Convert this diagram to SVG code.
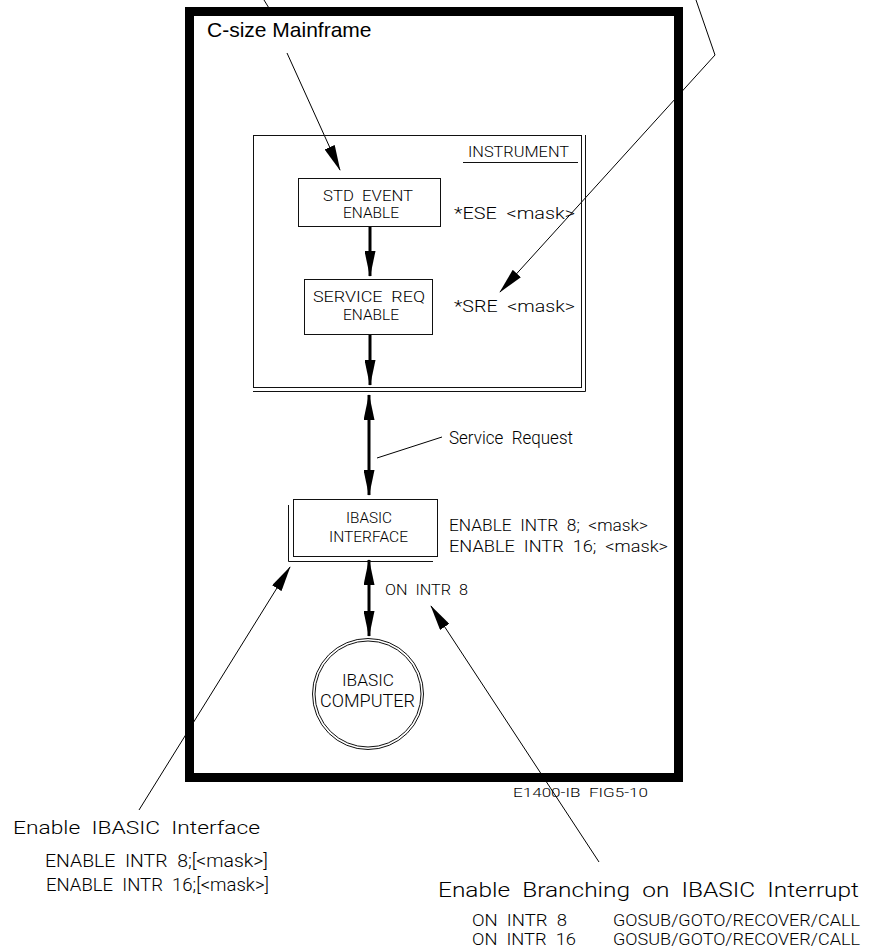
<svg xmlns="http://www.w3.org/2000/svg" width="877" height="951" viewBox="0 0 877 951">
<style>
.cad{font-family:Roboto,"Liberation Sans","DejaVu Sans",sans-serif;font-weight:300;fill:#000;word-spacing:0.25em}
.box{fill:none;stroke:#111;stroke-width:1}
.thick{fill:none;stroke:#000;stroke-width:3}
.lead{fill:none;stroke:#000;stroke-width:1}
</style>
<defs>
<marker id="ah" markerUnits="userSpaceOnUse" markerWidth="26" markerHeight="11" refX="25" refY="5.5" orient="auto-start-reverse" viewBox="0 0 26 11">
<path d="M0,0 L26,5.5 L0,11 Z" fill="#000"/>
</marker>
</defs>
<rect width="877" height="951" fill="#fff"/>

<g id="connectors">
<line class="lead" x1="264" y1="0" x2="272" y2="13"/>
<line class="thick" x1="370" y1="227" x2="370" y2="276" marker-end="url(#ah)"/>
<line class="thick" x1="370" y1="335" x2="370" y2="385" marker-end="url(#ah)"/>
<line class="thick" x1="369" y1="395" x2="369" y2="495" marker-start="url(#ah)" marker-end="url(#ah)"/>
<line class="thick" x1="369" y1="560" x2="369" y2="636" marker-start="url(#ah)" marker-end="url(#ah)"/>
<line class="lead" x1="377" y1="458" x2="442" y2="437"/>
<line class="lead" x1="287" y1="53" x2="340" y2="170" marker-end="url(#ah)"/>
<polyline class="lead" points="696,0 715,55 500,292" marker-end="url(#ah)"/>
<line class="lead" x1="139" y1="810" x2="290" y2="567" marker-end="url(#ah)"/>
<line class="lead" x1="599" y1="862" x2="431" y2="606" marker-end="url(#ah)"/>
</g>

<g id="mainframe">
<rect x="189.5" y="11.5" width="489" height="766" fill="none" stroke="#000" stroke-width="9"/>
<text x="207" y="37" font-family="'Liberation Sans',Arial,sans-serif" font-size="21">C-size Mainframe</text>
<text class="cad" x="513" y="797" font-size="12.5" textLength="135" lengthAdjust="spacingAndGlyphs">E1400-IB FIG5-10</text>
</g>

<g id="instrument">
<rect class="box" x="253.5" y="135.5" width="328" height="252"/>
<polyline class="box" points="585.5,135 585.5,391.5 253,391.5"/>
<text class="cad" x="468" y="157" font-size="15" textLength="101" lengthAdjust="spacingAndGlyphs">INSTRUMENT</text>
<line class="box" x1="463" y1="162.5" x2="578" y2="162.5"/>
<text class="cad" x="454" y="219" font-size="17" textLength="121" lengthAdjust="spacingAndGlyphs">*ESE &lt;mask&gt;</text>
<text class="cad" x="454" y="312" font-size="17" textLength="121" lengthAdjust="spacingAndGlyphs">*SRE &lt;mask&gt;</text>
</g>

<g id="std-event-enable">
<rect class="box" x="298.5" y="178.5" width="142" height="48"/>
<text class="cad" x="323" y="201" font-size="15" textLength="90" lengthAdjust="spacingAndGlyphs">STD EVENT</text>
<text class="cad" x="343" y="218" font-size="15" textLength="56" lengthAdjust="spacingAndGlyphs">ENABLE</text>
</g>

<g id="service-req-enable">
<rect class="box" x="304.5" y="279.5" width="128" height="55"/>
<text class="cad" x="313" y="302" font-size="15" textLength="112" lengthAdjust="spacingAndGlyphs">SERVICE REQ</text>
<text class="cad" x="343" y="320" font-size="15" textLength="56" lengthAdjust="spacingAndGlyphs">ENABLE</text>
</g>

<g id="service-request-label">
<text class="cad" x="449" y="444" font-size="19" textLength="124" lengthAdjust="spacingAndGlyphs">Service Request</text>
</g>

<g id="ibasic-interface">
<rect class="box" x="293.5" y="499.5" width="144" height="57"/>
<polyline class="box" points="288.5,505 288.5,561.5 433,561.5"/>
<text class="cad" x="346" y="523" font-size="15" textLength="46" lengthAdjust="spacingAndGlyphs">IBASIC</text>
<text class="cad" x="329" y="542" font-size="15" textLength="79" lengthAdjust="spacingAndGlyphs">INTERFACE</text>
<text class="cad" x="449" y="531" font-size="16.5" textLength="199" lengthAdjust="spacingAndGlyphs">ENABLE INTR 8; &lt;mask&gt;</text>
<text class="cad" x="449" y="552" font-size="16.5" textLength="219" lengthAdjust="spacingAndGlyphs">ENABLE INTR 16; &lt;mask&gt;</text>
<text class="cad" x="385" y="595" font-size="15.5" textLength="83" lengthAdjust="spacingAndGlyphs">ON INTR 8</text>
</g>

<g id="ibasic-computer">
<circle class="box" cx="368" cy="694" r="55.5"/>
<circle class="box" cx="368" cy="694" r="53"/>
<text class="cad" x="342" y="686" font-size="17" textLength="52" lengthAdjust="spacingAndGlyphs">IBASIC</text>
<text class="cad" x="320" y="707" font-size="18" textLength="95" lengthAdjust="spacingAndGlyphs">COMPUTER</text>
</g>

<g id="enable-interface-note">
<text class="cad" x="13" y="834" font-size="18.5" textLength="247" lengthAdjust="spacingAndGlyphs">Enable IBASIC Interface</text>
<text class="cad" x="45" y="867" font-size="18" textLength="223" lengthAdjust="spacingAndGlyphs">ENABLE INTR 8;[&lt;mask&gt;]</text>
<text class="cad" x="46" y="891" font-size="18" textLength="223" lengthAdjust="spacingAndGlyphs">ENABLE INTR 16;[&lt;mask&gt;]</text>
</g>

<g id="enable-branching-note">
<text class="cad" x="438" y="897" font-size="21" textLength="421" lengthAdjust="spacingAndGlyphs">Enable Branching on IBASIC Interrupt</text>
<text class="cad" x="472" y="926" font-size="17" textLength="95" lengthAdjust="spacingAndGlyphs">ON INTR 8</text>
<text class="cad" x="613" y="926" font-size="17" textLength="247" lengthAdjust="spacingAndGlyphs">GOSUB/GOTO/RECOVER/CALL</text>
<text class="cad" x="472" y="945" font-size="17" textLength="104" lengthAdjust="spacingAndGlyphs">ON INTR 16</text>
<text class="cad" x="613" y="945" font-size="17" textLength="247" lengthAdjust="spacingAndGlyphs">GOSUB/GOTO/RECOVER/CALL</text>
</g>
</svg>
